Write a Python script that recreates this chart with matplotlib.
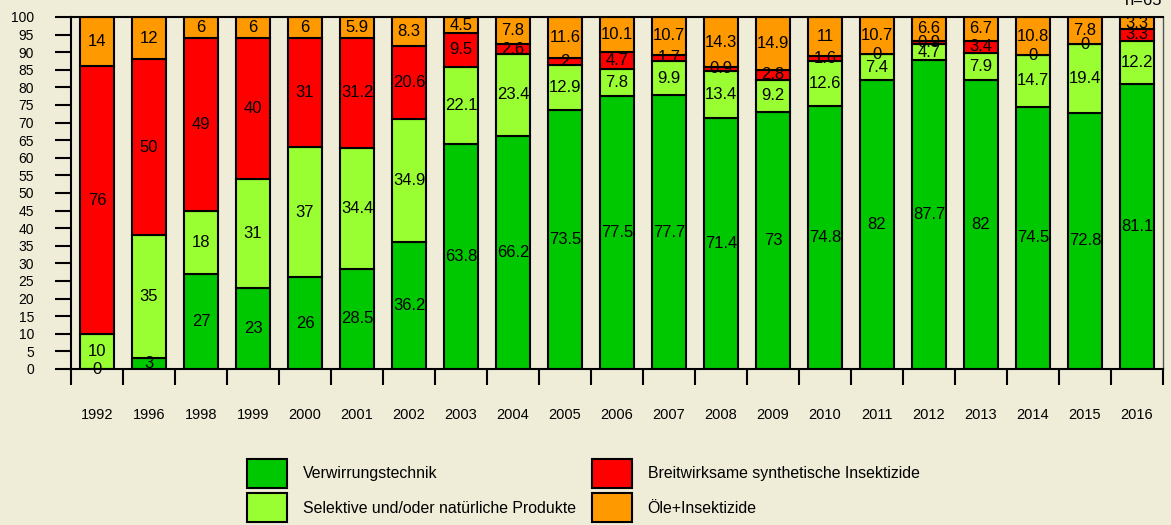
import numpy as np
import matplotlib
matplotlib.use('Agg')
import matplotlib.pyplot as plt
from matplotlib.patches import Patch

years = ['1992', '1996', '1998', '1999', '2000', '2001', '2002', '2003', '2004', '2005', '2006',
         '2007', '2008', '2009', '2010', '2011', '2012', '2013', '2014', '2015', '2016']
verwirrung = [0, 3, 27, 23, 26, 28.5, 36.2, 63.8, 66.2, 73.5, 77.5,
              77.7, 71.4, 73, 74.8, 82, 87.7, 82, 74.5, 72.8, 81.1]
selektive = [10, 35, 18, 31, 37, 34.4, 34.9, 22.1, 23.4, 12.9, 7.8,
             9.9, 13.4, 9.2, 12.6, 7.4, 4.7, 7.9, 14.7, 19.4, 12.2]
breitwirksam = [76, 50, 49, 40, 31, 31.2, 20.6, 9.5, 2.6, 2, 4.7,
                1.7, 0.9, 2.8, 1.6, 0, 0.9, 3.4, 0, 0, 3.3]
oele = [14, 12, 6, 6, 6, 5.9, 8.3, 4.5, 7.8, 11.6, 10.1,
        10.7, 14.3, 14.9, 11, 10.7, 6.6, 6.7, 10.8, 7.8, 3.3]

names = ['Verwirrungstechnik', 'Selektive und/oder natürliche Produkte',
         'Breitwirksame synthetische Insektizide', 'Öle+Insektizide']
colors = ['#00C800', '#99FF33', '#FF0000', '#FF9900']
n_label = 'n=65'

plt.rcParams['font.family'] = ['Liberation Sans', 'DejaVu Sans']
bg = '#EFEDD8'

fig = plt.figure(figsize=(11.71, 5.25), dpi=100, facecolor=bg)
ax = fig.add_axes([71/1171, 1-369/525, (1163-71)/1171, (369-17)/525])
ax.set_facecolor(bg)

x = np.arange(len(years))
bottom = np.zeros(len(years))
for vals, name, col in zip([verwirrung, selektive, breitwirksam, oele], names, colors):
    vals = np.array(vals, dtype=float)
    ax.bar(x, vals, 0.65, bottom=bottom, color=col, edgecolor='black', linewidth=1.5, label=name)
    for xi, b, v in zip(x, bottom, vals):
        ax.text(xi, b + v/2, f'{v:g}', ha='center', va='center', fontsize=12)
    bottom += vals

ax.set_xlim(-0.5, len(years) - 0.5)
ax.set_ylim(0, 100)
ax.set_yticks(np.arange(0, 101, 5))
ax.set_xticks(x)
ax.set_xticklabels(years)
ax.set_xticks(np.arange(-0.5, len(years), 1), minor=True)

ax.tick_params(axis='y', direction='out', length=11.5, width=1.5, pad=15, labelsize=10)
ax.tick_params(axis='x', which='major', length=0, pad=28, labelsize=10.5)
ax.tick_params(axis='x', which='minor', direction='out', length=11.5, width=1.5)

for s in ['left', 'bottom', 'top']:
    ax.spines[s].set_linewidth(1.5)
    ax.spines[s].set_color('black')
ax.spines['right'].set_linewidth(1)
ax.spines['right'].set_color('#555555')

handles = [Patch(facecolor=c, edgecolor='black', linewidth=1.5) for c in colors]
fig.legend(handles, names, ncol=2, loc='upper left',
           bbox_to_anchor=(247/1171, 1-459/525), frameon=False, fontsize=11.4,
           handlelength=2.53, handleheight=2.45, handletextpad=1.0, labelspacing=0.32,
           columnspacing=1.0, borderpad=0, borderaxespad=0)

fig.text(1162/1171, 1-5/525, n_label, ha='right', va='baseline', fontsize=12)

fig.savefig('out.png', dpi=100, facecolor=bg)
